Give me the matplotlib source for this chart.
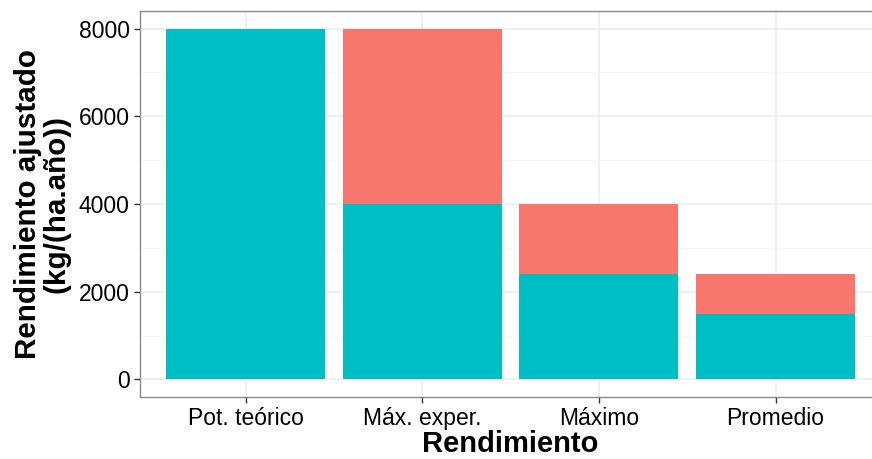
import numpy as np
import matplotlib.pyplot as plt
from matplotlib.ticker import MultipleLocator

plt.rcParams['font.family'] = ['Liberation Sans', 'DejaVu Sans']

categorias = ['Pot. teórico', 'Máx. exper.', 'Máximo', 'Promedio']
base = [8000, 4000, 2400, 1500]       # teal part
brecha = [0, 4000, 1600, 900]         # red part on top

teal = '#00BFC4'
red = '#F8766D'

fig = plt.figure(figsize=(8.72, 4.59), dpi=100)
W, H = 872, 459
ax = fig.add_axes([139.5 / W, (H - 397) / H, (881.5 - 139.5) / W, (397 - 11) / H])

x = np.arange(1, len(categorias) + 1)
ax.bar(x, base, width=0.9, color=teal, zorder=3)
ax.bar(x, brecha, width=0.9, bottom=base, color=red, zorder=3)

ax.set_xlim(0.4, 4.6)
ax.set_ylim(-400, 8400)
ax.set_xticks(x)
ax.set_xticklabels(categorias)
ax.yaxis.set_major_locator(MultipleLocator(2000))
ax.yaxis.set_minor_locator(MultipleLocator(1000))

# ggplot theme_bw look
ax.grid(True, which='major', color='#EBEBEB', linewidth=1.1, zorder=0)
ax.grid(True, which='minor', axis='y', color='#F4F4F4', linewidth=0.6, zorder=0)
ax.set_axisbelow(True)
for s in ax.spines.values():
    s.set_color('#8a8a8a')
    s.set_linewidth(1.0)
ax.tick_params(which='major', length=4, width=1, color='#333333',
               labelsize=16.5, labelcolor='black', pad=3)
ax.tick_params(which='minor', length=0)

ax.set_xlabel('Rendimiento', fontsize=21, fontweight='bold', labelpad=0)
ax.set_ylabel('Rendimiento ajustado\n(kg/(ha.año))', fontsize=21.3,
              fontweight='bold', labelpad=6, linespacing=1.0)

fig.savefig('out.png', dpi=100)
